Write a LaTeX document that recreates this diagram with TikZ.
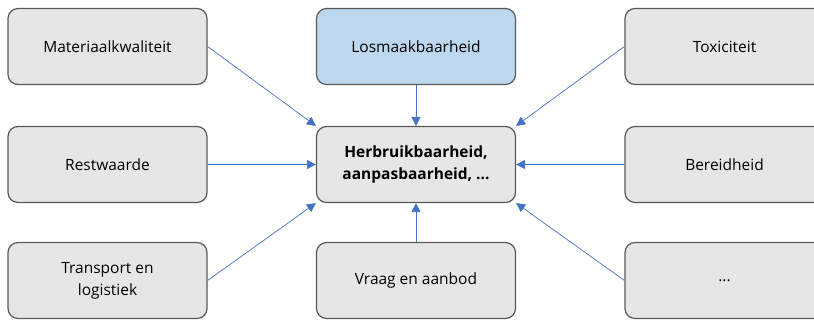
\documentclass[tikz,border=0pt]{standalone}
\usepackage{fontspec}
\setmainfont{Open Sans}
\usetikzlibrary{arrows.meta}

\begin{document}
\begin{tikzpicture}[x=1pt,y=-1pt,
	blok/.style={draw=boxline,fill=boxfill,line width=1.2pt,rounded corners=10pt,minimum width=199pt,minimum height=76pt,align=center,font=\fontsize{15.5}{22}\selectfont},
	pijl/.style={draw=arrowblue,line width=0.7pt,-{Triangle[length=9pt,width=9pt]}}]
\definecolor{boxfill}{RGB}{230,230,230}
\definecolor{boxline}{RGB}{89,89,89}
\definecolor{bluefill}{RGB}{189,215,238}
\definecolor{arrowblue}{RGB}{68,114,196}
	\useasboundingbox (0,0) rectangle (814,320);
	\clip (0,0) rectangle (814,320);
	\node[blok] (kwaliteit) at (107.5,46.5) {Materiaalkwaliteit};
	\node[blok,fill=bluefill] (losmaak) at (416,46.5) {Losmaakbaarheid};
	\node[blok] (toxi) at (724.5,46.5) {Toxiciteit};
	\node[blok] (rest) at (107.5,164.5) {Restwaarde};
	\node[blok,font=\fontsize{15.5}{22}\selectfont\bfseries] (herbruik) at (416,164.5) {Herbruikbaarheid,\\aanpasbaarheid, ...};
	\node[blok] (bereid) at (724.5,164.5) {Bereidheid};
	\node[blok] (transport) at (107.5,280.5) {Transport en\\logistiek};
	\node[blok] (vraag) at (416,280.5) {Vraag en aanbod};
	\node[blok] (meer) at (724.5,280.5) {...};
	\draw[pijl] (kwaliteit.east) -- (herbruik.north west);
	\draw[pijl] (losmaak.south) -- (herbruik.north);
	\draw[pijl] (toxi.west) -- (herbruik.north east);
	\draw[pijl] (rest.east) -- (herbruik.west);
	\draw[pijl] (bereid.west) -- (herbruik.east);
	\draw[pijl] (transport.east) -- (herbruik.south west);
	\draw[pijl] (vraag.north) -- (herbruik.south);
	\draw[pijl] (meer.west) -- (herbruik.south east);
\end{tikzpicture}
\end{document}
